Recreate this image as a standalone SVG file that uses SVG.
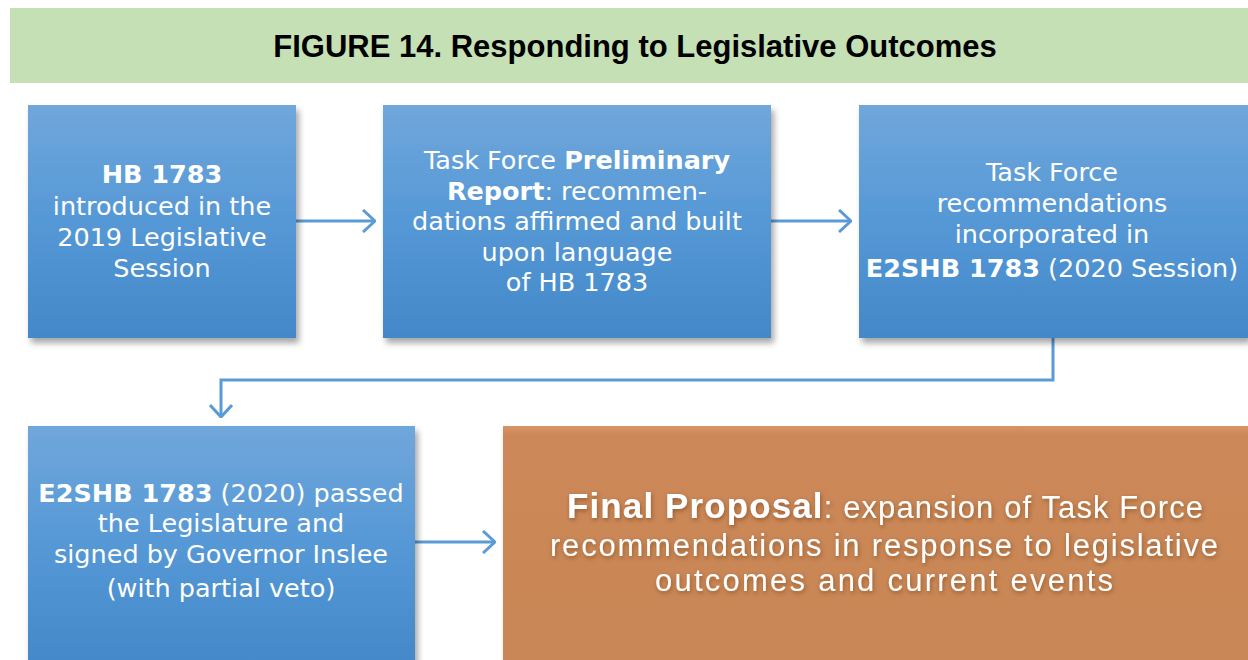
<svg xmlns="http://www.w3.org/2000/svg" width="1248" height="660" viewBox="0 0 1248 660">
<defs>
<linearGradient id="blue" x1="0" y1="0" x2="0" y2="1">
<stop offset="0" stop-color="#70a7db"/>
<stop offset="0.5" stop-color="#5598d6"/>
<stop offset="1" stop-color="#4488c9"/>
</linearGradient>
<linearGradient id="orange" x1="0" y1="0" x2="0" y2="1">
<stop offset="0" stop-color="#d99466"/>
<stop offset="0.04" stop-color="#cc8858"/>
<stop offset="1" stop-color="#c98656"/>
</linearGradient>
<filter id="sh" x="-5%" y="-5%" width="112%" height="115%">
<feDropShadow dx="3" dy="5" stdDeviation="3" flood-color="#000" flood-opacity="0.35"/>
</filter>
<filter id="tsh" x="-5%" y="-20%" width="110%" height="140%">
<feDropShadow dx="1" dy="2" stdDeviation="2" flood-color="#5a3010" flood-opacity="0.5"/>
</filter>
<marker id="ah" viewBox="0 0 14 24" refX="13" refY="12" markerWidth="14" markerHeight="24" markerUnits="userSpaceOnUse" orient="auto">
<path d="M1,1 L13,12 L1,23" fill="none" stroke="#5b9bd5" stroke-width="3"/>
</marker>
</defs>
<style>
.t{font-family:"DejaVu Sans","Liberation Sans",sans-serif;fill:#fff;text-anchor:middle;font-size:25.5px}
.o{font-family:"Liberation Sans",Arial,sans-serif;fill:#fff;text-anchor:middle;font-size:31px}
.b{font-weight:bold}
.c{fill:none;stroke:#5b9bd5;stroke-width:3}
</style>
<rect width="1248" height="660" fill="#fff"/>
<g id="title">
<rect x="10" y="8" width="1238" height="75" fill="#c5e0b4"/>
<text x="635" y="57" font-family="Liberation Sans,Arial,sans-serif" font-weight="bold" font-size="31" text-anchor="middle" fill="#000">FIGURE 14. Responding to Legislative Outcomes</text>
</g>
<g id="connectors">
<line class="c" x1="296" y1="221" x2="375" y2="221" marker-end="url(#ah)"/>
<line class="c" x1="771" y1="221" x2="851" y2="221" marker-end="url(#ah)"/>
<polyline class="c" points="1053,338 1053,380 221,380 221,417" marker-end="url(#ah)"/>
<line class="c" x1="415" y1="542" x2="495" y2="542" marker-end="url(#ah)"/>
</g>
<g id="node1">
<rect x="28" y="105" width="268" height="233" fill="url(#blue)" filter="url(#sh)"/>
<text class="t"><tspan x="162" y="183" class="b">HB 1783</tspan><tspan x="162" y="215">introduced in the</tspan><tspan x="162" y="246">2019 Legislative</tspan><tspan x="162" y="277">Session</tspan></text>
</g>
<g id="node2">
<rect x="383" y="105" width="388" height="233" fill="url(#blue)" filter="url(#sh)"/>
<text class="t"><tspan x="577" y="169">Task Force <tspan class="b">Preliminary</tspan></tspan><tspan x="577" y="200"><tspan class="b">Report</tspan>: recommen-</tspan><tspan x="577" y="230">dations affirmed and built</tspan><tspan x="577" y="261">upon language</tspan><tspan x="577" y="291">of HB 1783</tspan></text>
</g>
<g id="node3">
<rect x="859" y="105" width="389" height="233" fill="url(#blue)" filter="url(#sh)"/>
<text class="t"><tspan x="1052" y="181">Task Force</tspan><tspan x="1052" y="212">recommendations</tspan><tspan x="1052" y="243">incorporated in</tspan><tspan x="1052" y="277"><tspan class="b">E2SHB 1783</tspan> (2020 Session)</tspan></text>
</g>
<g id="node4">
<rect x="28" y="426" width="387" height="240" fill="url(#blue)" filter="url(#sh)"/>
<text class="t"><tspan x="221" y="502"><tspan class="b">E2SHB 1783</tspan> (2020) passed</tspan><tspan x="221" y="532">the Legislature and</tspan><tspan x="221" y="563">signed by Governor Inslee</tspan><tspan x="221" y="597">(with partial veto)</tspan></text>
</g>
<g id="node5">
<rect x="503" y="426" width="750" height="240" fill="url(#orange)" filter="url(#sh)"/>
<text class="o" filter="url(#tsh)"><tspan x="885" y="518" textLength="636" lengthAdjust="spacing"><tspan class="b" style="font-size:35px">Final Proposal</tspan>: expansion of Task Force</tspan><tspan x="884" y="556" textLength="668" lengthAdjust="spacing">recommendations in response to legislative</tspan><tspan x="884" y="591" textLength="458" lengthAdjust="spacing">outcomes and current events</tspan></text>
</g>
</svg>
